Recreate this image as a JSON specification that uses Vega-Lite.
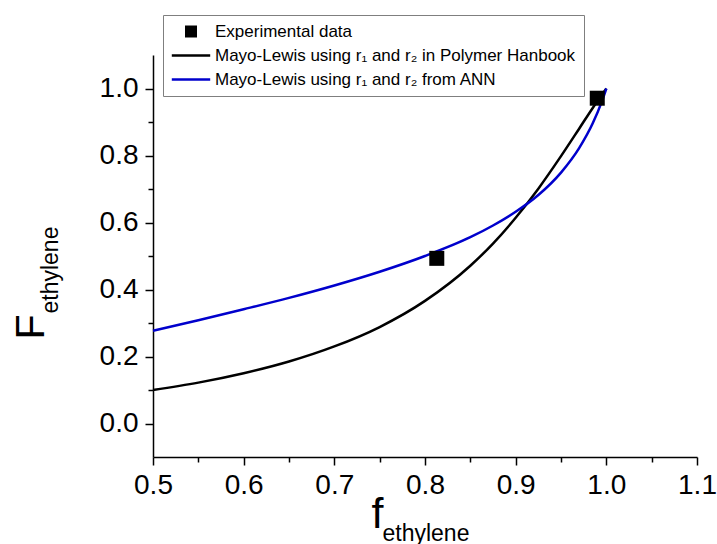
{
  "$schema": "https://vega.github.io/schema/vega-lite/v6.json",
  "autosize": {"type": "none"},
  "padding": {"left": 153, "top": 55, "right": 20, "bottom": 87},
  "width": 544,
  "height": 402,
  "background": "white",
  "config": {
    "view": {"stroke": null},
    "font": "Liberation Sans",
    "axis": {"grid": false, "domainColor": "black", "domainWidth": 1.5, "tickColor": "black", "tickWidth": 1.5, "labelFont": "Liberation Sans", "labelColor": "black", "titleFont": "Liberation Sans", "titleColor": "black", "titleFontWeight": "normal"}
  },
  "data": {
    "values": [
      {"f": 0.5, "F": 0.100, "series": "Mayo-Lewis using r₁ and r₂ in Polymer Hanbook"},
      {"f": 0.55, "F": 0.122, "series": "Mayo-Lewis using r₁ and r₂ in Polymer Hanbook"},
      {"f": 0.6, "F": 0.150, "series": "Mayo-Lewis using r₁ and r₂ in Polymer Hanbook"},
      {"f": 0.65, "F": 0.185, "series": "Mayo-Lewis using r₁ and r₂ in Polymer Hanbook"},
      {"f": 0.7, "F": 0.230, "series": "Mayo-Lewis using r₁ and r₂ in Polymer Hanbook"},
      {"f": 0.75, "F": 0.288, "series": "Mayo-Lewis using r₁ and r₂ in Polymer Hanbook"},
      {"f": 0.8, "F": 0.366, "series": "Mayo-Lewis using r₁ and r₂ in Polymer Hanbook"},
      {"f": 0.85, "F": 0.471, "series": "Mayo-Lewis using r₁ and r₂ in Polymer Hanbook"},
      {"f": 0.875, "F": 0.537, "series": "Mayo-Lewis using r₁ and r₂ in Polymer Hanbook"},
      {"f": 0.9, "F": 0.614, "series": "Mayo-Lewis using r₁ and r₂ in Polymer Hanbook"},
      {"f": 0.925, "F": 0.701, "series": "Mayo-Lewis using r₁ and r₂ in Polymer Hanbook"},
      {"f": 0.95, "F": 0.798, "series": "Mayo-Lewis using r₁ and r₂ in Polymer Hanbook"},
      {"f": 0.97, "F": 0.880, "series": "Mayo-Lewis using r₁ and r₂ in Polymer Hanbook"},
      {"f": 0.985, "F": 0.942, "series": "Mayo-Lewis using r₁ and r₂ in Polymer Hanbook"},
      {"f": 0.995, "F": 0.981, "series": "Mayo-Lewis using r₁ and r₂ in Polymer Hanbook"},
      {"f": 1.0, "F": 1.0, "series": "Mayo-Lewis using r₁ and r₂ in Polymer Hanbook"},
      {"f": 0.5, "F": 0.277, "series": "Mayo-Lewis using r₁ and r₂ from ANN"},
      {"f": 0.55, "F": 0.308, "series": "Mayo-Lewis using r₁ and r₂ from ANN"},
      {"f": 0.6, "F": 0.341, "series": "Mayo-Lewis using r₁ and r₂ from ANN"},
      {"f": 0.65, "F": 0.375, "series": "Mayo-Lewis using r₁ and r₂ from ANN"},
      {"f": 0.7, "F": 0.412, "series": "Mayo-Lewis using r₁ and r₂ from ANN"},
      {"f": 0.75, "F": 0.453, "series": "Mayo-Lewis using r₁ and r₂ from ANN"},
      {"f": 0.8, "F": 0.500, "series": "Mayo-Lewis using r₁ and r₂ from ANN"},
      {"f": 0.85, "F": 0.556, "series": "Mayo-Lewis using r₁ and r₂ from ANN"},
      {"f": 0.875, "F": 0.591, "series": "Mayo-Lewis using r₁ and r₂ from ANN"},
      {"f": 0.9, "F": 0.632, "series": "Mayo-Lewis using r₁ and r₂ from ANN"},
      {"f": 0.925, "F": 0.682, "series": "Mayo-Lewis using r₁ and r₂ from ANN"},
      {"f": 0.95, "F": 0.749, "series": "Mayo-Lewis using r₁ and r₂ from ANN"},
      {"f": 0.97, "F": 0.822, "series": "Mayo-Lewis using r₁ and r₂ from ANN"},
      {"f": 0.985, "F": 0.896, "series": "Mayo-Lewis using r₁ and r₂ from ANN"},
      {"f": 0.995, "F": 0.961, "series": "Mayo-Lewis using r₁ and r₂ from ANN"},
      {"f": 1.0, "F": 1.0, "series": "Mayo-Lewis using r₁ and r₂ from ANN"},
      {"f": 0.813, "F": 0.493, "series": "Experimental data"},
      {"f": 0.99, "F": 0.971, "series": "Experimental data"}
    ]
  },
  "resolve": {"axis": {"x": "independent", "y": "independent"}},
  "layer": [
    {
      "transform": [{"filter": "datum.series !== 'Experimental data'"}],
      "mark": {"type": "line", "strokeWidth": 2.5, "interpolate": "monotone"},
      "encoding": {
        "x": {"field": "f", "type": "quantitative",
          "scale": {"domain": [0.5, 1.1], "nice": false, "zero": false},
          "axis": {"orient": "bottom", "values": [0.5, 0.55, 0.6, 0.65, 0.7, 0.75, 0.8, 0.85, 0.9, 0.95, 1.0, 1.05, 1.1],
            "labelExpr": "round(datum.value*20) % 2 == 0 ? format(datum.value, '.1f') : ''",
            "tickSize": {"condition": {"test": "round(datum.value*20) % 2 == 0", "value": 8}, "value": 5},
            "labelFontSize": 28, "labelPadding": 6, "labelFlush": false, "labelOverlap": false, "labelBound": false,
            "title": "f", "titleFontSize": 43, "titleAlign": "left", "titleBaseline": "alphabetic", "titleAngle": 0, "titleX": 218, "titleY": 70}},
        "y": {"field": "F", "type": "quantitative",
          "scale": {"domain": [-0.1, 1.1], "nice": false, "zero": false},
          "axis": {"orient": "left", "values": [0, 0.1, 0.2, 0.3, 0.4, 0.5, 0.6, 0.7, 0.8, 0.9, 1.0],
            "labelExpr": "round(datum.value*10) % 2 == 0 ? format(datum.value, '.1f') : ''",
            "tickSize": {"condition": {"test": "round(datum.value*10) % 2 == 0", "value": 8}, "value": 5},
            "labelFontSize": 28, "labelPadding": 7, "labelFlush": false, "labelOverlap": false, "labelBound": false,
            "title": "F", "titleFontSize": 41, "titleAlign": "left", "titleBaseline": "alphabetic", "titleAngle": 270, "titleX": -110, "titleY": 284}},
        "color": {"field": "series", "type": "nominal",
          "scale": {"domain": ["Experimental data", "Mayo-Lewis using r₁ and r₂ in Polymer Hanbook", "Mayo-Lewis using r₁ and r₂ from ANN"], "range": ["#000000", "#000000", "#0000cc"]},
          "legend": {"orient": "none", "legendX": 10, "legendY": -40, "title": null,
            "labelFont": "Liberation Sans", "labelFontSize": 17, "labelColor": "black", "labelLimit": 600, "labelOffset": 18,
            "strokeColor": "#7f7f7f", "fillColor": "white", "padding": 8, "rowPadding": 6, "symbolSize": 144,
            "encode": {
              "symbols": {"update": {
                "x": {"value": 20},
                "shape": {"signal": "datum.index === 0 ? 'square' : 'M-3.2,0H3.2'"},
                "size": {"value": 144},
                "fill": {"signal": "datum.index === 0 ? '#000000' : 'transparent'"},
                "stroke": {"signal": "datum.index === 2 ? '#0000cc' : '#000000'"},
                "strokeWidth": {"signal": "datum.index === 0 ? 0 : 2.5"},
                "opacity": {"value": 1}}},
              "labels": {"update": {"x": {"value": 44}}}}}}
      }
    },
    {
      "transform": [{"filter": "datum.series === 'Experimental data'"}],
      "mark": {"type": "point", "shape": "square", "filled": true, "size": 225, "opacity": 1},
      "encoding": {
        "x": {"field": "f", "type": "quantitative",
          "scale": {"domain": [0.5, 1.1], "nice": false, "zero": false},
          "axis": {"orient": "top", "labels": false, "ticks": false, "domain": false, "grid": false,
            "title": "ethylene", "titleFontSize": 23, "titleAlign": "left", "titleBaseline": "alphabetic", "titleAngle": 0, "titleX": 229, "titleY": 485}},
        "y": {"field": "F", "type": "quantitative",
          "scale": {"domain": [-0.1, 1.1], "nice": false, "zero": false},
          "axis": {"orient": "right", "labels": false, "ticks": false, "domain": false, "grid": false,
            "title": "ethylene", "titleFontSize": 23, "titleAlign": "left", "titleBaseline": "alphabetic", "titleAngle": 270, "titleX": -640, "titleY": 258}},
        "color": {"field": "series", "type": "nominal"}
      }
    }
  ]
}
